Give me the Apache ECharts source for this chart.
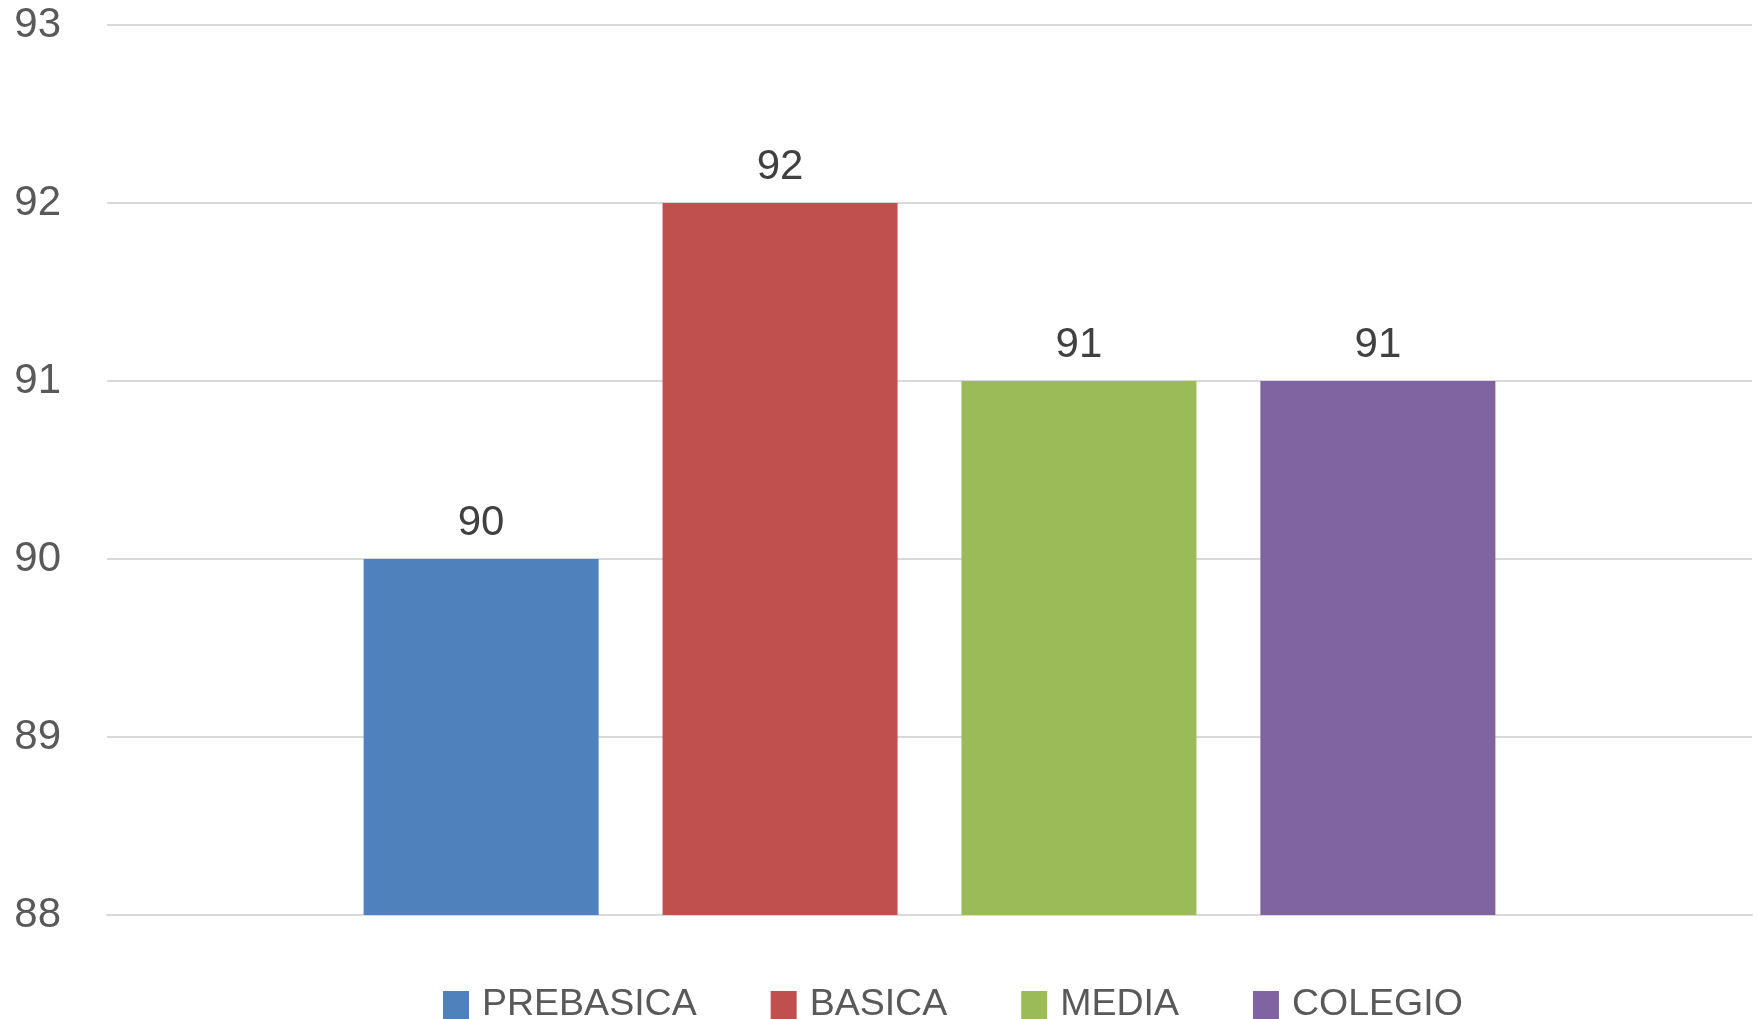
<!DOCTYPE html>
<html>
<head>
<meta charset="utf-8">
<script src="https://cdn.jsdelivr.net/npm/echarts@6/dist/echarts.min.js"></script>
<style>
html,body{margin:0;padding:0;background:#fff;}
#chart{width:1758px;height:1019px;}
</style>
</head>
<body>
<div id="chart"></div>
<script>
const categories = [''];
const seriesNames = ['PREBASICA', 'BASICA', 'MEDIA', 'COLEGIO'];
const seriesValues = [90, 92, 91, 91];
const seriesColors = ['#4F81BD', '#C0504D', '#9BBB59', '#8064A2'];
const yTicks = { min: 88, max: 93, interval: 1 };

const FONT = '"Liberation Sans", Arial, sans-serif';

const chart = echarts.init(document.getElementById('chart'));
chart.setOption({
  animation: false,
  backgroundColor: '#ffffff',
  grid: { left: 107, right: 6, top: 25, bottom: 104, containLabel: false },
  legend: {
    data: seriesNames,
    top: 981,
    left: 438,
    icon: 'rect',
    itemWidth: 26,
    itemHeight: 28,
    itemGap: 74,
    textStyle: { fontFamily: FONT, fontSize: 37.5, color: '#595959', padding: [0, 0, 0, 8] }
  },
  xAxis: {
    type: 'category',
    data: categories,
    axisLine: { show: true, lineStyle: { color: '#d9d9d9', width: 2 } },
    axisTick: { show: false },
    axisLabel: { show: false }
  },
  yAxis: {
    type: 'value',
    min: yTicks.min,
    max: yTicks.max,
    interval: yTicks.interval,
    axisLine: { show: false },
    axisTick: { show: false },
    axisLabel: { margin: 46, fontFamily: FONT, fontSize: 42, color: '#595959' },
    splitLine: { show: true, lineStyle: { color: '#d9d9d9', width: 2 } }
  },
  series: seriesNames.map((name, i) => ({
    name: name,
    type: 'bar',
    data: [seriesValues[i]],
    barCategoryGap: '31.2%',
    barGap: '27.2%',
    itemStyle: { color: seriesColors[i] },
    label: {
      show: true,
      position: 'top',
      distance: 15,
      fontFamily: FONT,
      fontSize: 42,
      color: '#404040'
    }
  }))
});
</script>
</body>
</html>
